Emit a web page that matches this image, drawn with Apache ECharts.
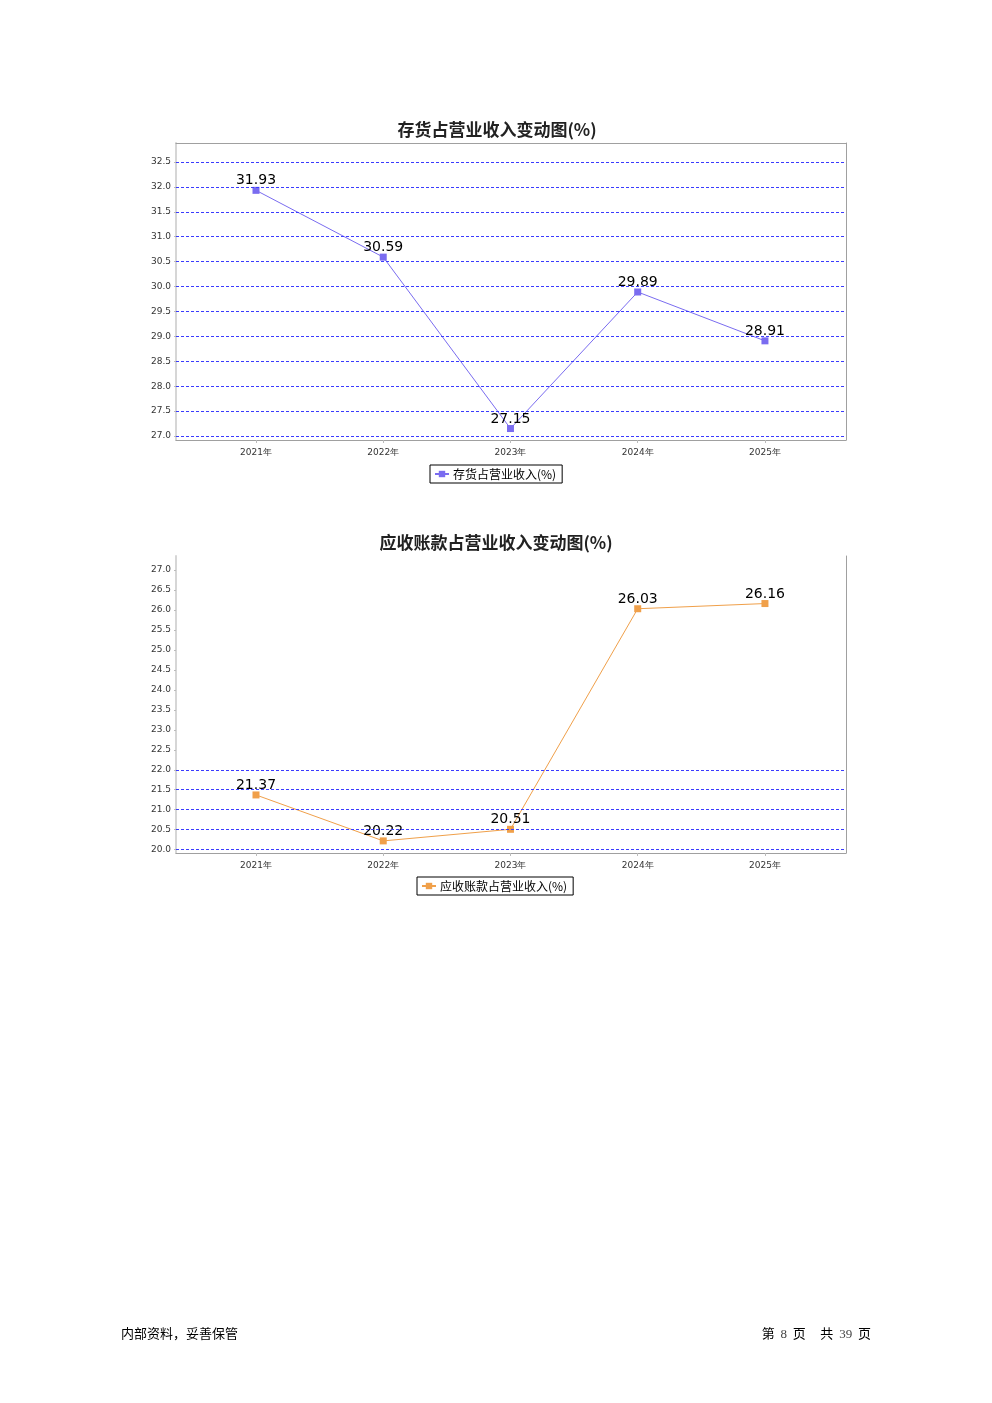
<!DOCTYPE html>
<html>
<head>
<meta charset="utf-8">
<script src="https://cdn.jsdelivr.net/npm/echarts@6/dist/echarts.min.js"></script>
<style>
html,body{margin:0;padding:0;background:#fff;}
#chart{width:992px;height:1403px;position:absolute;left:0;top:0;}
.foot{position:absolute;top:1325px;font-family:"Noto Sans CJK SC",sans-serif;font-size:13px;color:#000;line-height:16px;white-space:pre;}
.num{font-family:"Liberation Serif",serif;font-size:13px;color:#444;}
</style>
</head>
<body>
<div id="chart"></div>
<div class="foot" style="left:121px;">内部资料，妥善保管</div>
<div class="foot" style="right:121px;">第  <span class="num">8</span>  页     共  <span class="num">39</span>  页</div>
<script>
// ---- data ----
const years = ['2021年', '2022年', '2023年', '2024年', '2025年'];
const inventoryRatio = [31.93, 30.59, 27.15, 29.89, 28.91];
const receivableRatio = [21.37, 20.22, 20.51, 26.03, 26.16];
const invTicks = [27.0, 27.5, 28.0, 28.5, 29.0, 29.5, 30.0, 30.5, 31.0, 31.5, 32.0, 32.5];
const invGridLines = [27.0, 27.5, 28.0, 28.5, 29.0, 29.5, 30.0, 30.5, 31.0, 31.5, 32.0, 32.5];
const arTicks = [20.0, 20.5, 21.0, 21.5, 22.0, 22.5, 23.0, 23.5, 24.0, 24.5, 25.0, 25.5, 26.0, 26.5, 27.0];
const arGridLines = [20.0, 20.5, 21.0, 21.5, 22.0];
const titles = ['存货占营业收入变动图(%)', '应收账款占营业收入变动图(%)'];
const seriesNames = ['存货占营业收入(%)', '应收账款占营业收入(%)'];

// ---- styling ----
const purple = '#7a6cf0';
const orange = '#f0a04a';
const gridBlue = '#3b3bff';
const catIdx = years.map((_, i) => i);
const xMin = -0.6287, xMax = 4.637;

function xAxes(gi, withTop) {
  const axes = [{
    type: 'value', gridIndex: gi, min: xMin, max: xMax, position: 'bottom',
    splitLine: {show: false},
    axisLine: {show: true, onZero: false, lineStyle: {color: '#a0a0a0', width: 1}},
    axisTick: {show: true, customValues: catIdx, length: 3, lineStyle: {color: '#bbbbbb'}},
    axisLabel: {customValues: catIdx, formatter: v => years[Math.round(v)], fontSize: 9,
      color: '#333', margin: 8, fontFamily: 'DejaVu Sans'}
  }];
  if (withTop) {
    axes.push({type: 'value', gridIndex: gi, min: xMin, max: xMax, position: 'top',
      splitLine: {show: false}, axisTick: {show: false}, axisLabel: {show: false},
      axisLine: {show: true, onZero: false, lineStyle: {color: '#a0a0a0', width: 1}}});
  }
  return axes;
}
function yAxes(gi, mn, mx, ticks) {
  return [{
    type: 'value', gridIndex: gi, min: mn, max: mx, position: 'left',
    splitLine: {show: false},
    axisLine: {show: true, onZero: false, lineStyle: {color: '#d6d6d6', width: 2}},
    axisTick: {show: true, customValues: ticks, length: 2, lineStyle: {color: '#bbbbbb'}},
    axisLabel: {customValues: ticks, formatter: v => v.toFixed(1), fontSize: 9, color: '#333',
      margin: 5, fontFamily: 'DejaVu Sans'}
  }, {
    type: 'value', gridIndex: gi, min: mn, max: mx, position: 'right',
    splitLine: {show: false}, axisTick: {show: false}, axisLabel: {show: false},
    axisLine: {show: true, onZero: false, lineStyle: {color: '#a0a0a0', width: 1}}
  }];
}
function lineSeries(name, vals, color, xi, yi, gridVals) {
  return {
    name: name, type: 'line', xAxisIndex: xi, yAxisIndex: yi,
    data: vals.map((v, i) => [i, v]),
    symbol: 'rect', symbolSize: 7, showAllSymbol: true,
    lineStyle: {color: color, width: 1},
    itemStyle: {color: color},
    label: {show: true, position: 'top', distance: -1, fontSize: 14, color: '#000',
      fontFamily: 'DejaVu Sans', formatter: p => p.value[1].toFixed(2)},
    markLine: {
      silent: true, symbol: ['none', 'none'], animation: false,
      label: {show: false},
      lineStyle: {color: gridBlue, type: [3, 2], width: 1},
      emphasis: {disabled: true},
      data: gridVals.map(v => ({yAxis: v}))
    },
    z: 3
  };
}

const chart = echarts.init(document.getElementById('chart'), null, {renderer: 'canvas'});
const option = {
  animation: false,
  backgroundColor: '#fff',
  title: [
    {text: titles[0], left: 492, top: 116, textAlign: 'center',
      textStyle: {fontSize: 17, fontWeight: 'bold', color: '#222', fontFamily: 'Noto Sans CJK SC'}},
    {text: titles[1], left: 491, top: 529, textAlign: 'center',
      textStyle: {fontSize: 17, fontWeight: 'bold', color: '#222', fontFamily: 'Noto Sans CJK SC'}}
  ],
  legend: [
    {data: [seriesNames[0]], left: 430, top: 465, itemWidth: 14, itemHeight: 8, itemGap: 4,
      borderColor: '#000', borderWidth: 1, padding: [3, 6, 3, 4],
      textStyle: {fontSize: 12, color: '#000', fontFamily: 'Noto Sans CJK SC', padding: [0, 0, 0, -1]}},
    {data: [seriesNames[1]], left: 417, top: 877, itemWidth: 14, itemHeight: 8, itemGap: 4,
      borderColor: '#000', borderWidth: 1, padding: [3, 6, 3, 4],
      textStyle: {fontSize: 12, color: '#000', fontFamily: 'Noto Sans CJK SC', padding: [0, 0, 0, -1]}}
  ],
  grid: [
    {left: 176, top: 143, width: 670, height: 297, show: false},
    {left: 176, top: 556, width: 670, height: 297, show: false}
  ],
  xAxis: [].concat(xAxes(0, true), xAxes(1, false)),
  yAxis: [].concat(yAxes(0, 26.92, 32.88, invTicks), yAxes(1, 19.917, 27.35, arTicks)),
  series: [
    lineSeries(seriesNames[0], inventoryRatio, purple, 0, 0, invGridLines),
    lineSeries(seriesNames[1], receivableRatio, orange, 2, 2, arGridLines)
  ]
};
chart.setOption(option);
</script>
</body>
</html>
